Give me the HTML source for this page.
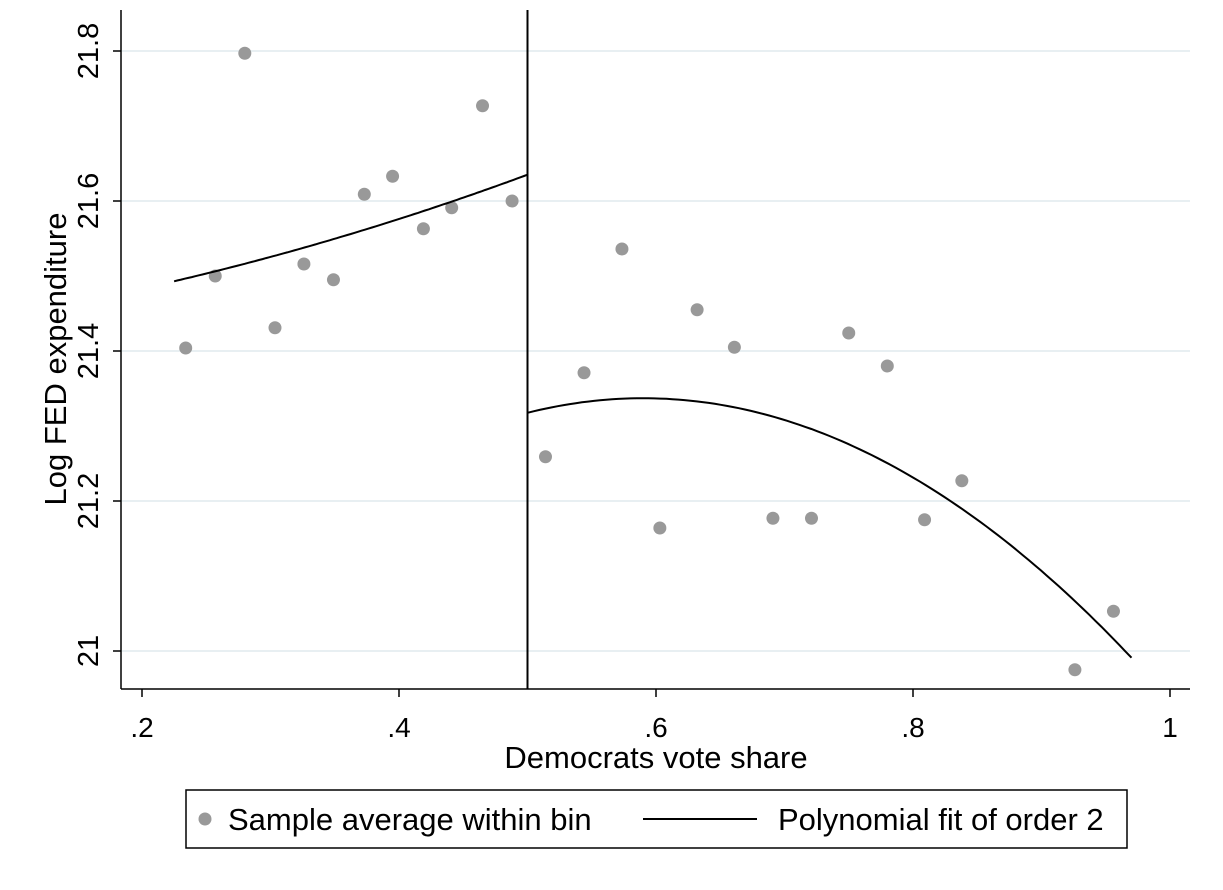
<!DOCTYPE html>
<html><head><meta charset="utf-8"><style>
body{margin:0;background:#fff;}
svg{display:block;font-family:"Liberation Sans",Arial,sans-serif;}
</style></head><body>
<svg id="chart" width="1223" height="890"></svg>
<script>
const binX=[0.234,0.257,0.280,0.3035,0.326,0.349,0.373,0.395,0.419,0.441,0.465,0.488,
0.514,0.544,0.5735,0.603,0.632,0.661,0.691,0.721,0.750,0.780,0.809,0.838,0.926,0.956];
const binY=[21.404,21.5,21.797,21.431,21.516,21.495,21.609,21.633,21.563,21.591,21.727,21.6,
21.259,21.371,21.536,21.164,21.455,21.405,21.177,21.177,21.424,21.38,21.175,21.227,20.975,21.053];
// left fit: y = b0 + b1*(x-0.225) + b2*(x-0.225)*(x-0.5)
const leftFit=[21.493,0.5164,0.42];
const leftRange=[0.225,0.5];
// right fit: y = k + a*(x-h)^2
const rightFit=[21.337,-2.396,0.59];
const rightRange=[0.5,0.97];
const xTicks=[0.2,0.4,0.6,0.8,1];
const xTickLabels=[".2",".4",".6",".8","1"];
const yTicks=[21,21.2,21.4,21.6,21.8];
const yTickLabels=["21","21.2","21.4","21.6","21.8"];
const cutoff=0.5;

const X=v=>142+(v-0.2)*1285;
const Y=v=>651-(v-21)*750;
const svg=document.getElementById('chart');
const NS='http://www.w3.org/2000/svg';
function mk(t,a,p){const e=document.createElementNS(NS,t);for(const k in a)e.setAttribute(k,a[k]);(p||svg).appendChild(e);return e;}

yTicks.forEach((t,i)=>{
  const g=mk('line',{x1:121,x2:1190,y1:Y(t),y2:Y(t),stroke:'#e8eff2','stroke-width':2});
  
  
  const tk=mk('line',{x1:113,x2:121,y1:Y(t),y2:Y(t),stroke:'#000','stroke-width':1.5});
  
  
  const tx=mk('text',{x:0,y:0,'font-size':29,'text-anchor':'middle',transform:`translate(${98},${Y(t)}) rotate(-90)`});
  tx.textContent=yTickLabels[i];
  
  
});
xTicks.forEach((t,i)=>{
  const tk=mk('line',{x1:X(t),x2:X(t),y1:689,y2:697,stroke:'#000','stroke-width':1.5});
  
  
  const tx=mk('text',{x:X(t),y:737,'font-size':28,'text-anchor':'middle'});
  tx.textContent=xTickLabels[i];
  
  
});
const ax1=mk('line',{x1:121,x2:121,y1:10,y2:689,stroke:'#000','stroke-width':1.5});


const ax2=mk('line',{x1:121,x2:1190,y1:689,y2:689,stroke:'#000','stroke-width':1.5});


const cl=mk('line',{x1:X(cutoff),x2:X(cutoff),y1:10,y2:689,stroke:'#000','stroke-width':2});



binX.forEach((x,i)=>{
  const c=mk('circle',{cx:X(x),cy:Y(binY[i]),r:6.5,fill:'#999'});
  
  
});
function path(f,r){let d='';for(let i=0;i<=100;i++){const x=r[0]+(r[1]-r[0])*i/100;d+=(i?'L':'M')+X(x).toFixed(1)+','+Y(f(x)).toFixed(1);}return d;}
const lf=mk('path',{d:path(x=>leftFit[0]+leftFit[1]*(x-0.225)+leftFit[2]*(x-0.225)*(x-0.5),leftRange),fill:'none',stroke:'#000','stroke-width':2});


const rf=mk('path',{d:path(x=>rightFit[0]+rightFit[1]*(x-rightFit[2])**2,rightRange),fill:'none',stroke:'#000','stroke-width':2});



const xt=mk('text',{x:656,y:768,'font-size':31,'text-anchor':'middle'});
xt.textContent='Democrats vote share';


const yt=mk('text',{x:0,y:0,'font-size':31,'text-anchor':'middle',transform:'translate(66,359) rotate(-90)'});
yt.textContent='Log FED expenditure';



const lg=mk('g',{});


mk('rect',{x:186,y:790,width:941,height:58,fill:'#fff',stroke:'#000','stroke-width':1.5},lg);
const l1=mk('circle',{cx:205,cy:819,r:6.5,fill:'#999'},lg);


const t1=mk('text',{x:228,y:830,'font-size':31},lg);
t1.textContent='Sample average within bin';


const l2=mk('line',{x1:643,x2:757,y1:819,y2:819,stroke:'#000','stroke-width':2},lg);


const t2=mk('text',{x:778,y:830,'font-size':31},lg);
t2.textContent='Polynomial fit of order 2';


</script>
</body></html>
